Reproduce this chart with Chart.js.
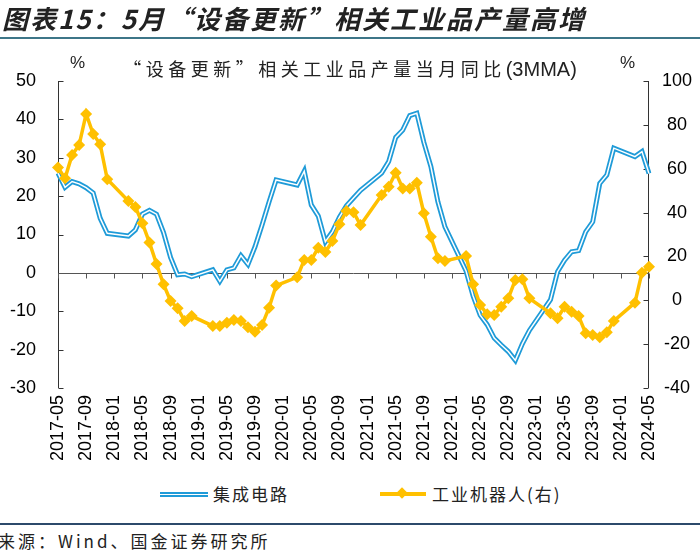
<!DOCTYPE html>
<html>
<head>
<meta charset="utf-8">
<script src="https://cdn.jsdelivr.net/npm/chart.js@4"></script>
<style>
  body { margin:0; width:700px; height:556px; background:#fff; position:relative; overflow:hidden;
         font-family:"Noto Sans CJK SC", sans-serif; color:#222; }
  .abs { position:absolute; white-space:nowrap; }
  #title { left:2px; top:0px; font-size:26px; font-weight:bold; font-style:italic; letter-spacing:2px; line-height:36px; color:#222; }
  #rule1 { left:0; top:37px; width:700px; height:2px; background:#3d7688; }
  #sub { left:0; width:700px; top:55px; text-align:center; font-size:18px; letter-spacing:4.5px; line-height:26px; }
  #sub span { font-family:"Liberation Sans", sans-serif; font-size:20px; letter-spacing:0; }
  .pct { top:50px; font-family:"Liberation Sans", sans-serif; font-size:17px; line-height:26px; }
  #wrap { left:0; top:0; }
  #legend { top:481px; left:0; width:700px; height:26px; font-size:17px; line-height:26px; letter-spacing:2px; }
  .sw-blue { position:absolute; left:160px; top:11px; width:48px; height:1px; background:#fff;
             border-top:2px solid #1f9bd8; border-bottom:2px solid #1f9bd8; }
  .sw-orange { position:absolute; left:380px; top:11px; width:46px; height:4px; background:#ffc000; }
  .sw-orange i { position:absolute; left:18px; top:-3px; width:8px; height:8px; background:#ffc000; transform:rotate(45deg); }
  #rule2 { left:0; top:523px; width:700px; height:2px; background:#2c4a6b; }
  #source { left:-2px; top:528px; font-size:17px; line-height:26px; letter-spacing:3px; }
</style>
</head>
<body>
<div id="wrap" class="abs"><canvas id="myChart" width="700" height="480"></canvas></div>
<div id="title" class="abs">图表15：5月“设备更新”相关工业品产量高增</div>
<div id="rule1" class="abs"></div>
<div id="sub" class="abs">“设备更新”相关工业品产量当月同比<span>(3MMA)</span></div>
<div class="pct abs" style="left:70px">%</div>
<div class="pct abs" style="left:620px">%</div>
<div id="legend" class="abs">
  <span class="sw-blue"></span><span class="abs" style="left:213px">集成电路</span>
  <span class="sw-orange"><i></i></span><span class="abs" style="left:432px">工业机器人(右)</span>
</div>
<div id="rule2" class="abs"></div>
<div id="source" class="abs">来源：Wind、国金证券研究所</div>
<script>
// months 2017-05 .. 2024-05
const months = [];
for (let y = 2017, m = 5; y < 2024 || (y === 2024 && m <= 5); m++) {
  if (m > 12) { m = 1; y++; }
  if (y === 2024 && m > 5) break;
  months.push(y + '-' + String(m).padStart(2, '0'));
}

// 集成电路 产量当月同比 3MMA, % (left axis); Jan/Feb not published
const icOutput = [
  26, 22.3, 23.8, 23.2, 22.2, 20.8, 14.2, 10.3,                     // 2017-05..12
  null, null, 9.6, 11.2, 15.3, 16.3, 15.3, 10.5, 4, -0.5, -0.3, -1,  // 2018
  null, null, 0.8, -2.2, 0.8, 1.3, 4.5, 2.2, 6.8, 12.5, 18.5, 24.2,  // 2019
  null, null, 22.9, 26.5, 17.7, 14.8, 8.1, 10.7, 14.5, 17.5, 19.5, 21.5, // 2020
  null, null, 26, 29, 35.3, 37.2, 41, 41.6, 34, 27.7, 18.5, 12,      // 2021
  null, null, 0.5, -6, -11, -13.5, -17, -18.8, -20.5, -22.8, -18.5, -15, // 2022
  null, null, -7, 0.3, 3.3, 5.5, 5.8, 10.7, 13.3, 23.3, 25.5, 32.5,  // 2023
  null, null, 30.3, 31.6, 25.9                                       // 2024
];

// 工业机器人 产量当月同比 3MMA, % (right axis)
const robotOutput = [
  60.6, 55.6, 66.3, 70.8, 85, 75.8, 71.1, 55.2,
  null, null, 45.3, 42.5, 35.1, 26.3, 16.6, 7.3, -0.3, -3.6, -9.4, -7.2,
  null, null, -11.7, -11.7, -10.2, -9, -9.4, -12.3, -14.3, -11.3, -3.4, 6.7,
  null, null, 10.5, 18.4, 18.4, 24, 22, 27, 34.7, 40.7, 40.2, 34.3,
  null, null, 48, 51.8, 58.2, 51, 51, 53.6, 39.7, 29, 19.2, 17.9,
  null, null, 20.2, 7.3, -2.1, -6.4, -6.7, -2.9, 0.9, 9.3, 9.6, 0.9,
  null, null, -5.9, -8.2, -2.9, -5.2, -7.2, -15, -15.8, -16.9, -14.6, -9.4,
  null, null, -1.1, 12.6, 15.3
];

const BLUE = '#1f9bd8';
const ORANGE = '#ffc000';

Chart.defaults.font.family = "'Liberation Sans', Arial, sans-serif";
Chart.defaults.color = '#000';

// axis lines with inward ticks, zero line with ticks every 4 months
const axisLines = {
  id: 'axisLines',
  beforeDatasetsDraw(chart) {
    const { ctx, chartArea: a, scales: { x, y, y1 } } = chart;
    ctx.save();
    ctx.strokeStyle = '#333';
    ctx.lineWidth = 1;
    ctx.beginPath();
    const lx = Math.round(a.left) + 0.5, rx = Math.round(a.right) - 0.5;
    ctx.moveTo(lx, a.top); ctx.lineTo(lx, a.bottom);
    y.ticks.forEach(t => {
      const py = Math.round(y.getPixelForValue(t.value)) + 0.5;
      ctx.moveTo(lx, py); ctx.lineTo(lx + 5, py);
    });
    ctx.moveTo(rx, a.top); ctx.lineTo(rx, a.bottom);
    y1.ticks.forEach(t => {
      const py = Math.round(y1.getPixelForValue(t.value)) + 0.5;
      ctx.moveTo(rx, py); ctx.lineTo(rx - 5, py);
    });
    ctx.stroke();
    const zy = Math.round(y.getPixelForValue(0)) + 0.5;
    ctx.strokeStyle = '#555';
    ctx.beginPath();
    ctx.moveTo(a.left, zy); ctx.lineTo(a.right, zy);
    months.forEach((m, i) => {
      if (i % 4 === 0) {
        const px = Math.round(x.getPixelForValue(i)) + 0.5;
        ctx.moveTo(px, zy); ctx.lineTo(px, zy + 5);
      }
    });
    ctx.stroke();
    ctx.restore();
  }
};

const config = {
  type: 'line',
  data: {
    labels: months,
    datasets: [{
      label: '集成电路',
      data: icOutput,
      yAxisID: 'y',
      order: 3,
      borderColor: BLUE,
      borderWidth: 5,
      pointRadius: 0,
      spanGaps: true,
      tension: 0
    }, {
      label: '集成电路-inner',
      data: icOutput,
      yAxisID: 'y',
      order: 2,
      borderColor: '#ffffff',
      borderWidth: 1.5,
      pointRadius: 0,
      spanGaps: true,
      tension: 0
    }, {
      label: '工业机器人(右)',
      data: robotOutput,
      yAxisID: 'y1',
      order: 1,
      borderColor: ORANGE,
      backgroundColor: ORANGE,
      borderWidth: 3.5,
      pointStyle: 'rectRot',
      pointRadius: 6,
      pointBorderWidth: 0,
      spanGaps: true,
      tension: 0
    }]
  },
  options: {
    responsive: false,
    animation: false,
    layout: { padding: { top: 81, left: 0, right: 0, bottom: 0 } },
    plugins: {
      legend: { display: false },
      tooltip: { enabled: false }
    },
    scales: {
      x: {
        grid: { display: false, drawTicks: false },
        border: { display: false },
        ticks: {
          autoSkip: false,
          minRotation: 90,
          maxRotation: 90,
          padding: 7,
          font: { size: 18 },
          callback: (v, i) => (i % 4 === 0 ? months[i] : '')
        },
        afterFit: s => { s.height = 92; }
      },
      y: {
        position: 'left',
        min: -30, max: 50,
        grid: { display: false, drawTicks: false },
        border: { display: false },
        ticks: { stepSize: 10, padding: 22, font: { size: 18 } },
        afterFit: s => { s.width = 58; }
      },
      y1: {
        position: 'right',
        min: -40, max: 100,
        grid: { display: false, drawTicks: false },
        border: { display: false },
        ticks: { stepSize: 20, padding: 13, crossAlign: 'center', font: { size: 18 } },
        afterFit: s => { s.width = 51; }
      }
    }
  },
  plugins: [axisLines]
};

const myChart = new Chart(document.getElementById('myChart'), config);
</script>
</body>
</html>
